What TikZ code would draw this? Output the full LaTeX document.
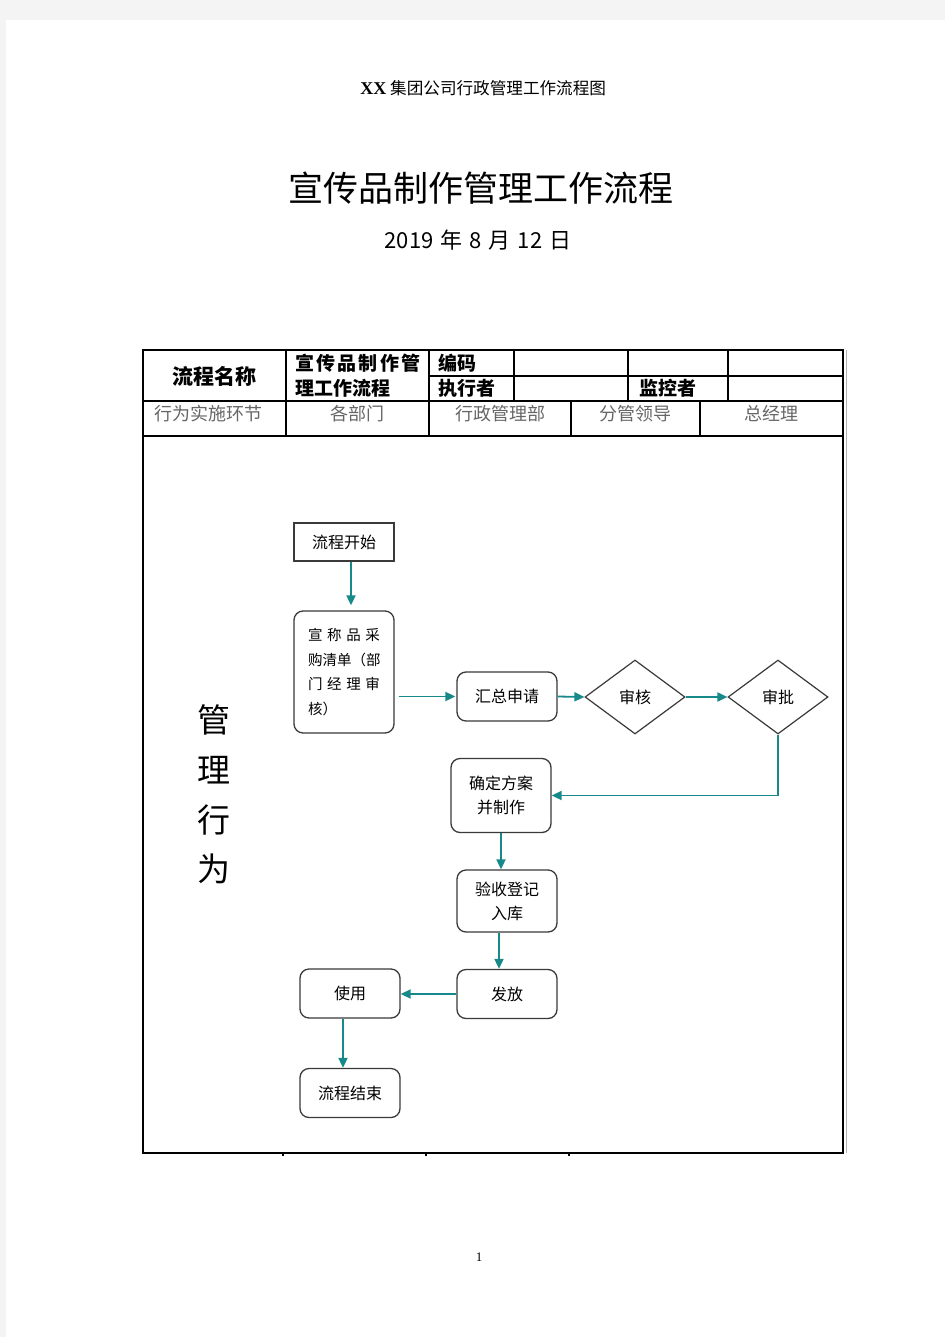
\documentclass[tikz,border=0pt]{standalone}
\usepackage{fontspec}
\setmainfont{Noto Sans CJK SC}
\newfontfamily\lserif{Liberation Serif}
\usetikzlibrary{arrows.meta,shapes.geometric,calc}
\definecolor{teal1}{HTML}{17898A}
\definecolor{boxline}{HTML}{3A3A3A}
\definecolor{pagebg}{HTML}{F4F4F4}
\newcommand\myfs[2]{\fontsize{#1}{#2}\selectfont}
\begin{document}
\begin{tikzpicture}[x=1pt,y=-1pt,
 tbl/.style={line width=1.1pt,draw=black},
 flowbox/.style={draw=boxline,line width=1.3pt,rounded corners=9pt,minimum width=100pt,inner sep=0pt,align=center,font=\myfs{16}{24}},
 startbox/.style={draw=boxline,line width=1.3pt,minimum width=100pt,minimum height=38pt,inner sep=0pt,font=\myfs{16}{24}},
 decision/.style={diamond,draw=boxline,line width=1.2pt,minimum width=100pt,minimum height=74pt,inner sep=0pt,font=\myfs{16}{24}},
 flow/.style={draw=teal1,line width=1.8pt,-{Triangle[length=10pt,width=9pt]}},
 hdr/.style={font=\bfseries\myfs{19}{22},inner sep=0pt},
 hdr2/.style={font=\myfs{18}{20},text=black!60,inner sep=0pt}
]
% page
\fill[pagebg] (0,0) rectangle (945,1337);
\fill[white] (6,20) rectangle (945,1337);
\useasboundingbox (0,0) rectangle (945,1337);

% titles
\node[inner sep=0pt,font=\myfs{16.6}{20}] (doctitle) at (481,88) {{\lserif\bfseries\myfs{18}{20} XX} 集团公司行政管理工作流程图};
\node[inner sep=0pt,font=\myfs{35}{40}] (maintitle) at (481,188) {宣传品制作管理工作流程};
\node[inner sep=0pt,font=\myfs{22}{26}] (date) at (478,240) {2019\hspace{7pt}年\hspace{7pt}8\hspace{7pt}月\hspace{7pt}12\hspace{7pt}日};

% table
\draw[tbl] (143,350) rectangle (843,1153);
\draw[black!30,line width=0.8pt] (846,350) -- (846,1153);
\draw[tbl] (429,376) -- (843,376);
\draw[tbl] (143,401) -- (843,401);
\draw[tbl] (143,436) -- (843,436);
\draw[tbl] (286,350) -- (286,436);
\draw[tbl] (429,350) -- (429,436);
\draw[tbl] (514,350) -- (514,401);
\draw[tbl] (628,350) -- (628,401);
\draw[tbl] (728,350) -- (728,401);
\draw[tbl] (571,401) -- (571,436);
\draw[tbl] (700,401) -- (700,436);
\draw[line width=1.5pt] (283,1153) -- (283,1156);
\draw[line width=1.5pt] (426,1153) -- (426,1156);
\draw[line width=1.5pt] (569,1153) -- (569,1156);

% header texts
\node[hdr,font=\bfseries\myfs{21}{24}] (h1) at (214,376) {流程名称};
\node[hdr,anchor=west] (h2a) at (295,363) {\makebox[125pt][l]{宣\hfill 传\hfill 品\hfill 制\hfill 作\hfill 管}};
\node[hdr,anchor=west] (h2b) at (295,388) {理工作流程};
\node[hdr,anchor=west] (h3) at (438,363) {编码};
\node[hdr,anchor=west] (h4) at (438,388) {执行者};
\node[hdr,anchor=west] (h5) at (639,388) {监控者};
\node[hdr2] (c1) at (208,414) {行为实施环节};
\node[hdr2] (c2) at (357,414) {各部门};
\node[hdr2] (c3) at (500,414) {行政管理部};
\node[hdr2] (c4) at (635,414) {分管领导};
\node[hdr2] (c5) at (771,414) {总经理};

% vertical label
\node[inner sep=0pt,align=center,font=\myfs{33}{49.7}] (vlabel) at (214,794.5) {管\\理\\行\\为};

% flow nodes
\node[startbox] (start) at (344,542) {流程开始};
\node[flowbox,minimum height=122pt,font=\myfs{14.5}{24.5}] (purchase) at (344,672)
 {\makebox[72pt][l]{宣\hfill 称\hfill 品\hfill 采}\\
  \makebox[72pt][l]{购清单（部}\\
  \makebox[72pt][l]{门\hfill 经\hfill 理\hfill 审}\\
  \makebox[72pt][l]{核）}};
\node[flowbox,minimum height=49pt] (summary) at (507,696.5) {汇总申请};
\node[decision] (audit) at (635,697) {审核};
\node[decision] (approve) at (778,697) {审批};
\node[flowbox,minimum height=74pt] (decide) at (501,795.5) {确定方案\\并制作};
\node[flowbox,minimum height=62pt] (check) at (507,901) {验收登记\\入库};
\node[flowbox,minimum height=49pt] (dist) at (507,994) {发放};
\node[flowbox,minimum height=49pt] (use) at (350,993.5) {使用};
\node[flowbox,minimum height=49pt] (finish) at (350,1093) {流程结束};

% connectors
\draw[flow,shorten >=5pt] ([xshift=7pt]start.south) -- ([xshift=7pt]purchase.north);
\draw[flow,shorten <=4pt,shorten >=1pt] (purchase.east |- summary.west) -- (summary.west);
\draw[flow] (summary.east) -- (audit.west);
\draw[flow] (audit.east) -- (approve.west);
\draw[flow] (approve.south) |- (decide.east);
\draw[flow] (decide.south) -- (decide.south |- check.north);
\draw[flow] ([xshift=-8pt]check.south) -- ([xshift=-8pt]dist.north);
\draw[flow] (dist.west) -- (use.east |- dist.west);
\draw[flow] ([xshift=-7pt]use.south) -- ([xshift=-7pt]finish.north);

% page number
\node[inner sep=0pt,font=\lserif\myfs{13}{15}] (pagenum) at (479,1257) {1};
\end{tikzpicture}
\end{document}
